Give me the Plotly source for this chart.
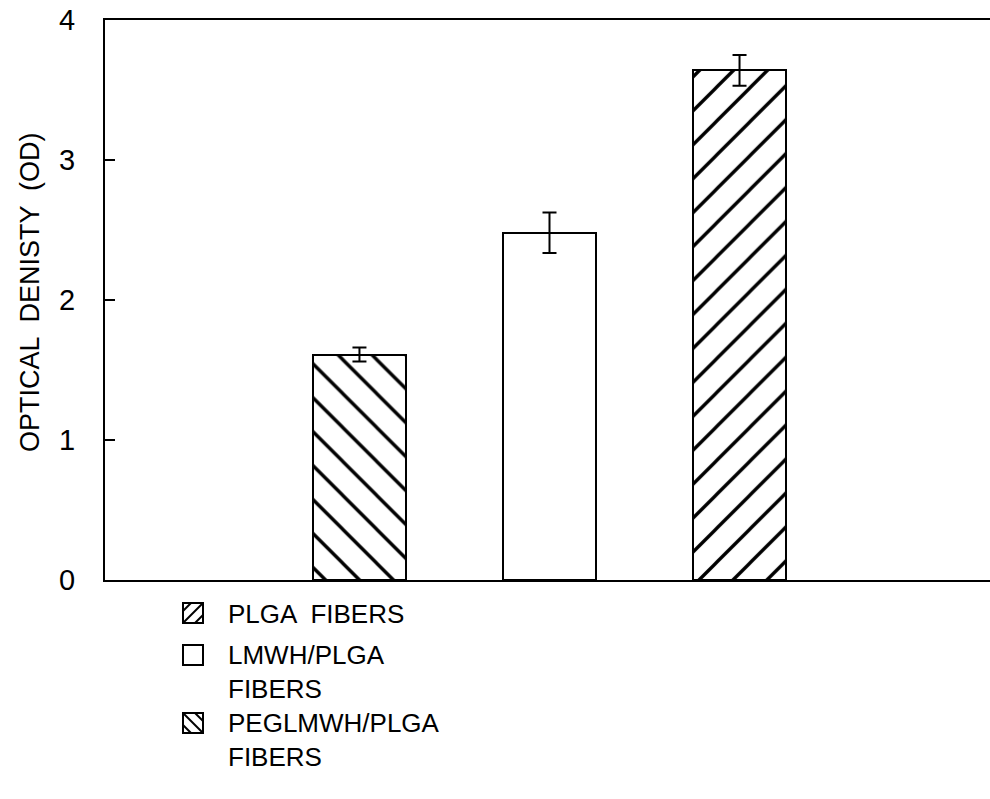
import plotly.graph_objects as go

categories = ["PEGLMWH/PLGA FIBERS", "LMWH/PLGA FIBERS", "PLGA FIBERS"]
values = [1.61, 2.48, 3.64]
errors = [0.05, 0.145, 0.11]
hatches = ["\\", "", "/"]
y_ticks = [0, 1, 2, 3, 4]
legend_labels = ["PLGA  FIBERS", "LMWH/PLGA<br>FIBERS", "PEGLMWH/PLGA<br>FIBERS"]
legend_hatches = ["/", "", "\\"]

OFF = 0  # page body margin (set to 0 by post_script)
W, H = 990 - OFF, 799 - OFF
# target plot area in page pixels: x 105..990, y 20..580
L, T = 105 - OFF, 20 - OFF
R = 0
B = H - (580 - OFF)
PW, PH = W - L - R, H - T - B

FONT = "Liberation Sans Narrow, Arial Narrow, Liberation Sans, Arial, sans-serif"


def px2paper(px, py):
    # page pixel -> paper coords
    fx, fy = px - OFF, py - OFF
    return (fx - L) / PW, (T + PH - fy) / PH


fig = go.Figure()
fig.add_trace(go.Bar(
    x=categories, y=values,
    width=0.49,
    marker=dict(color="white", line=dict(color="black", width=2),
                pattern=dict(shape=hatches, fgcolor="black", bgcolor="white", fgopacity=1,
                             size=24, solidity=0.14, fillmode="overlay")),
    error_y=dict(type="data", array=errors, color="black", thickness=2, width=7),
    showlegend=False,
))

shapes = []
annotations = []
icon_tops = [603, 645, 713]
text_y = [614, 672, 740]
for i, (lab, hs) in enumerate(zip(legend_labels, legend_hatches)):
    x0, x1 = 183, 203
    y0, y1 = icon_tops[i], icon_tops[i] + 20
    a0, b1 = px2paper(x0, y1)
    a1, b0 = px2paper(x1, y0)
    shapes.append(dict(type="rect", xref="paper", yref="paper", x0=a0, x1=a1, y0=b1, y1=b0,
                       line=dict(color="black", width=2), fillcolor="white"))
    if hs:
        if hs == "/":
            segs = [((x0, y1), (x1, y0)), ((x0, y0 + 8), (x0 + 8, y0)), ((x1 - 8, y1), (x1, y1 - 8))]
        else:
            segs = [((x0, y0), (x1, y1)), ((x1 - 8, y0), (x1, y0 + 8)), ((x0, y1 - 8), (x0 + 8, y1))]
        for (p, q) in segs:
            sx0, sy0 = px2paper(*p)
            sx1, sy1 = px2paper(*q)
            shapes.append(dict(type="line", xref="paper", yref="paper", x0=sx0, y0=sy0, x1=sx1, y1=sy1,
                               line=dict(color="black", width=2)))
    tx, ty = px2paper(226, text_y[i])
    annotations.append(dict(text=lab, xref="paper", yref="paper", x=tx, y=ty, xanchor="left", yanchor="middle",
                            showarrow=False, align="left", font=dict(family=FONT, size=26, color="black")))

tx, ty = px2paper(30, 292)
annotations.append(dict(text="OPTICAL  DENISTY  (OD)", xref="paper", yref="paper", x=tx, y=ty,
                        textangle=-90, showarrow=False, xanchor="center", yanchor="middle",
                        font=dict(family=FONT, size=27, color="black")))

fig.update_layout(
    width=W, height=H,
    margin=dict(l=L, r=R, t=T, b=B, pad=0, autoexpand=False),
    paper_bgcolor="white", plot_bgcolor="white",
    shapes=shapes, annotations=annotations,
    bargap=0,
    xaxis=dict(range=[-1.339, 3.318], showticklabels=False, ticks="", showgrid=False, zeroline=False,
               showline=True, linecolor="black", linewidth=2, mirror=True, automargin=False),
    yaxis=dict(range=[0, 4], tickvals=y_ticks, ticks="inside", ticklen=10, tickwidth=2, tickcolor="black",
               showgrid=False, zeroline=False, showline=True, linecolor="black", linewidth=2,
               ticklabelstandoff=22, ticklabeloverflow="allow", automargin=False,
               tickfont=dict(family=FONT, size=29, color="black")),
)

fig.write_html("out.html", config={"displayModeBar": False},
               post_script="document.body.style.margin='0';")
